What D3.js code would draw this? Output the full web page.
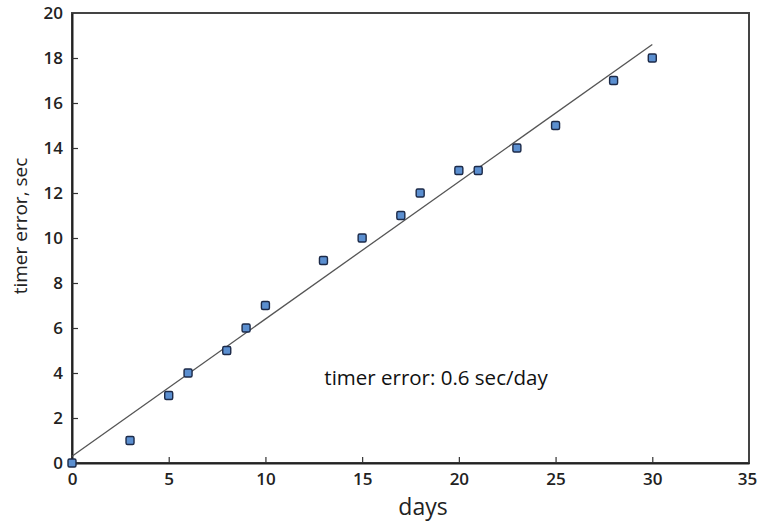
<!DOCTYPE html>
<html>
<head>
<meta charset="utf-8">
<script src="https://cdn.jsdelivr.net/npm/d3@7"></script>
<style>
  body { margin: 0; background: #fff; }
  text { font-family: "Open Sans", sans-serif; }
</style>
</head>
<body>
<script>
// measured points
const days = [0, 3, 5, 6, 8, 9, 10, 13, 15, 17, 18, 20, 21, 23, 25, 28, 30];
const errors = [0, 1, 3, 4, 5, 6, 7, 9, 10, 11, 12, 13, 13, 14, 15, 17, 18];
// fitted line end points
const fitX = [0, 30];
const fitY = [0.3, 18.6];
const xTicks = [0, 5, 10, 15, 20, 25, 30, 35];
const yTicks = [0, 2, 4, 6, 8, 10, 12, 14, 16, 18, 20];

const width = 758, height = 524;
const margin = { left: 72, right: 9, top: 13, bottom: 61 };

const svg = d3.select("body").append("svg").attr("width", width).attr("height", height);

const x = d3.scaleLinear().domain([0, 35]).range([margin.left, width - margin.right]);
const y = d3.scaleLinear().domain([0, 20]).range([height - margin.bottom, margin.top]);

// frame
svg.append("rect")
  .attr("x", x(0)).attr("y", y(20))
  .attr("width", x(35) - x(0)).attr("height", y(0) - y(20))
  .attr("fill", "none").attr("stroke", "#444").attr("stroke-width", 2);

// axes with inward ticks
const xAxis = svg.append("g")
  .attr("transform", `translate(0,${y(0)})`)
  .call(d3.axisBottom(x).tickValues(xTicks).tickSizeInner(-6).tickSizeOuter(0).tickPadding(10));
const yAxis = svg.append("g")
  .attr("transform", `translate(${x(0)},0)`)
  .call(d3.axisLeft(y).tickValues(yTicks).tickSizeInner(-6).tickSizeOuter(0).tickPadding(9));

[xAxis, yAxis].forEach(g => {
  g.select(".domain").attr("stroke", "#222").attr("stroke-width", 2);
  g.selectAll(".tick line").attr("stroke", "#333").attr("stroke-width", 1.2);
  g.selectAll(".tick text").attr("font-size", 17).attr("font-weight", 600).attr("fill", "#222");
});
yAxis.selectAll(".tick text").attr("dy", "0.35em");
yAxis.selectAll(".tick").filter(d => d === 20).select("line").remove();
xAxis.selectAll(".tick").filter(d => d === 35 || d === 0).select("line").remove();
xAxis.selectAll(".tick").filter(d => d === 35).select("text").attr("dx", -2);

// fitted line
svg.append("line")
  .attr("x1", x(fitX[0])).attr("y1", y(fitY[0]))
  .attr("x2", x(fitX[1])).attr("y2", y(fitY[1]))
  .attr("stroke", "#555").attr("stroke-width", 1.3);

// points
svg.selectAll(".pt")
  .data(days.map((d, i) => [d, errors[i]]))
  .enter().append("rect")
  .attr("class", "pt")
  .attr("x", d => x(d[0]) - 4).attr("y", d => y(d[1]) - 4)
  .attr("width", 8).attr("height", 8).attr("rx", 1.5)
  .attr("fill", "#5b8fd0").attr("stroke", "#1c2a48").attr("stroke-width", 1.4);

// labels
svg.append("text")
  .attr("x", 423).attr("y", 515)
  .attr("text-anchor", "middle").attr("font-size", 23).attr("fill", "#222")
  .text("days");

svg.append("text")
  .attr("transform", `translate(27,226) rotate(-90)`)
  .attr("text-anchor", "middle").attr("font-size", 19).attr("fill", "#222")
  .text("timer error, sec");

svg.append("text")
  .attr("x", 436).attr("y", 385)
  .attr("text-anchor", "middle").attr("font-size", 20.5).attr("fill", "#111")
  .text("timer error: 0.6 sec/day");
</script>
</body>
</html>
